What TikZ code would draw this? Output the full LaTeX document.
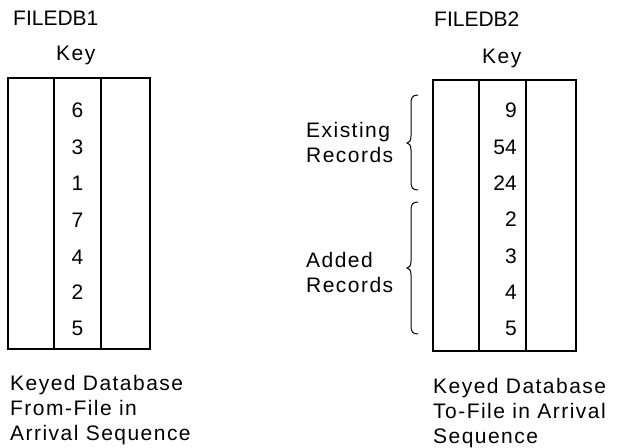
\documentclass[tikz,border=0pt]{standalone}
\usepackage{fontspec}
\setmainfont{Liberation Sans}
\newfontfamily\widesans[LetterSpace=7]{Liberation Sans}
\begin{document}
\begin{tikzpicture}[x=1pt,y=-1pt,
  captxt/.style={anchor=base west,inner sep=0pt,font=\fontsize{21}{25}\selectfont},
  txt/.style={anchor=base west,inner sep=0pt,font=\widesans\fontsize{21}{25}\selectfont},
  num/.style={inner sep=0pt,font=\fontsize{21}{25}\selectfont},
  frame/.style={draw,line width=1.1pt,inner sep=0pt},
  rule/.style={line width=1.1pt},
  brc/.style={line width=1pt}]
\useasboundingbox (0,0) rectangle (618,447);

% ---------- FILEDB1 ----------
\node[captxt] (t1) at (13,25) {FILEDB1};
\node[txt] (k1) at (56,60) {Key};
\node[frame,minimum width=142pt,minimum height=271pt] (b1) at (79,213.5) {};
\coordinate (c1a) at (54,78);
\coordinate (c1b) at (54,349);
\coordinate (c1c) at (101,78);
\coordinate (c1d) at (101,349);
\draw[rule] (c1a) -- (c1b);
\draw[rule] (c1c) -- (c1d);
\foreach \v/\y [count=\i] in {6/110,3/147,1/183,7/220,4/257,2/292,5/328}
  \node[num] (l\i) at (77.5,\y) {\v};
\node[txt] (d1a) at (10,390) {Keyed Database};
\node[txt] (d1b) at (10,415) {From-File in};
\node[txt] (d1c) at (10,440) {Arrival Sequence};

% ---------- FILEDB2 ----------
\node[captxt] (t2) at (434,27) {FILEDB2};
\node[txt] (k2) at (482,63) {Key};
\node[frame,minimum width=143pt,minimum height=271pt] (b2) at (504.5,215.5) {};
\coordinate (c2a) at (479,80);
\coordinate (c2b) at (479,351);
\coordinate (c2c) at (526,80);
\coordinate (c2d) at (526,351);
\draw[rule] (c2a) -- (c2b);
\draw[rule] (c2c) -- (c2d);
\foreach \v/\y [count=\i] in {9/110,54/147,24/183,2/219,3/256,4/292,5/328}
  \node[num,anchor=east] (r\i) at (517,\y) {\v};
\node[txt] (d2a) at (433,393) {Keyed Database};
\node[txt] (d2b) at (433,418) {To-File in Arrival};
\node[txt] (d2c) at (433,443) {Sequence};

% ---------- braces and group labels ----------
\node[txt] (ex1) at (306,137) {Existing};
\node[txt] (ex2) at (306,162) {Records};
\node[txt] (ad1) at (306,267) {Added};
\node[txt] (ad2) at (306,292) {Records};
\coordinate (e0) at (418,95);
\coordinate (e1) at (418,190);
\coordinate (a0) at (418,202);
\coordinate (a1) at (418,334);
\draw[brc] (e0) .. controls (412,95) and (411,98) .. (411,104)
  -- (411,136) .. controls (411,141) and (409,143) .. (407,143)
  .. controls (409,143) and (411,145) .. (411,150)
  -- (411,181) .. controls (411,187) and (412,190) .. (e1);
\draw[brc] (a0) .. controls (412,202) and (411,205) .. (411,211)
  -- (411,261) .. controls (411,266) and (409,268) .. (407,268)
  .. controls (409,268) and (411,270) .. (411,275)
  -- (411,325) .. controls (411,331) and (412,334) .. (a1);
\end{tikzpicture}
\end{document}
